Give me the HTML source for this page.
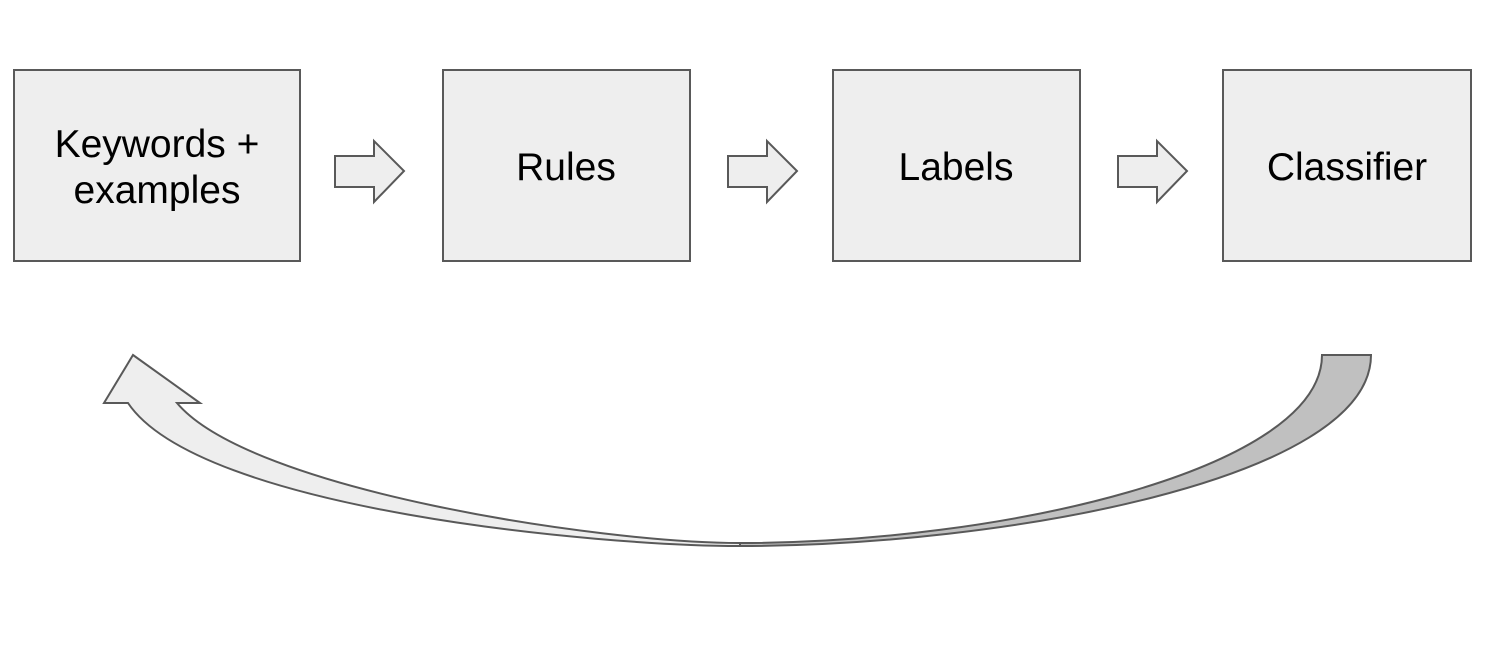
<!DOCTYPE html>
<html><head><style>
body{margin:0;background:#fff;width:1494px;height:662px;overflow:hidden}
svg text{font-family:"Liberation Sans",Arial,sans-serif;font-size:39px;fill:#000}
</style></head><body>
<svg width="1494" height="662" viewBox="0 0 1494 662">
<g fill="#eeeeee" stroke="#595959" stroke-width="2">
<rect x="14" y="70" width="286" height="191"/>
<rect x="443" y="70" width="247" height="191"/>
<rect x="833" y="70" width="247" height="191"/>
<rect x="1223" y="70" width="248" height="191"/>
<path d="M335 156H374V141L404 171L374 202V187H335Z"/>
<path d="M728 156H767V141L797 171L767 202V187H728Z"/>
<path d="M1118 156H1157V141L1187 171L1157 202V187H1118Z"/>
</g>
<path d="M740 546C1000 546 1371 480 1371 355H1322C1322 470 1000 543 740 543Z" fill="#c0c0c0" stroke="#595959" stroke-width="2"/>
<path d="M740 546C600 546 200 510 128 403H104L133 355L200 403H177C250 490 600 543 740 543Z" fill="#eeeeee" stroke="#595959" stroke-width="2"/>
<g text-anchor="middle">
<text x="157" y="157">Keywords +</text>
<text x="157" y="203">examples</text>
<text x="566" y="180">Rules</text>
<text x="956" y="180">Labels</text>
<text x="1347" y="180">Classifier</text>
</g>
</svg>
</body></html>
